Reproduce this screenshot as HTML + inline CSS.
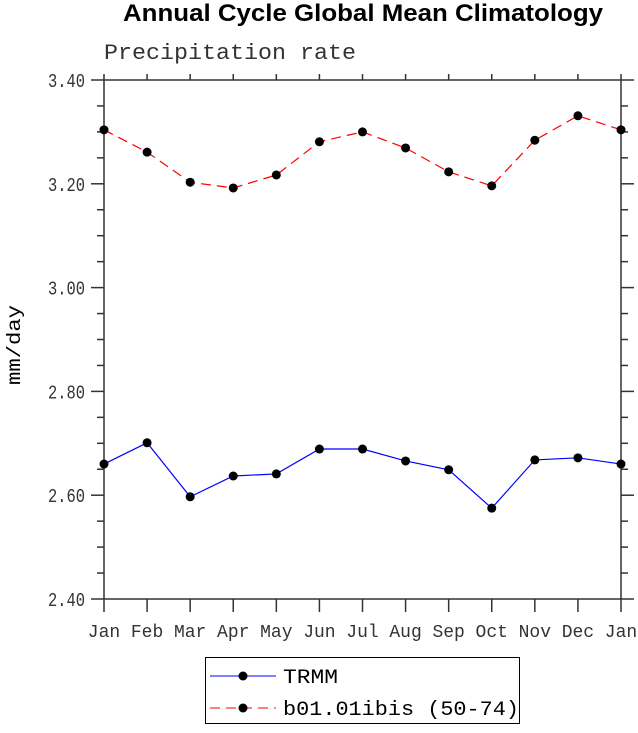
<!DOCTYPE html>
<html><head><meta charset="utf-8"><style>
body{margin:0;background:#fff;width:638px;height:728px;overflow:hidden}
text{font-family:"Liberation Mono",monospace}
</style></head><body>
<svg id="c" width="638" height="728" xmlns="http://www.w3.org/2000/svg">
<text x="363" y="21" text-anchor="middle" font-weight="bold" font-size="24" textLength="480" lengthAdjust="spacingAndGlyphs" style="font-family:'Liberation Sans',sans-serif">Annual Cycle Global Mean Climatology</text>
<text x="104" y="59" font-size="22" textLength="252" lengthAdjust="spacingAndGlyphs" fill="#333">Precipitation rate</text>
<text transform="translate(20,345) rotate(-90)" text-anchor="middle" font-size="19" textLength="80" lengthAdjust="spacingAndGlyphs">mm/day</text>
<g id="axes"></g><g id="series"></g>
<rect x="205.5" y="657.5" width="314" height="66" fill="none" stroke="#000"/>
<g><line x1="210" y1="676" x2="276" y2="676" stroke="#0000ff"/><circle cx="243" cy="676" r="4.5"/><text x="283" y="683" font-size="20" textLength="55" lengthAdjust="spacingAndGlyphs">TRMM</text></g>
<g><line x1="210" y1="708" x2="276" y2="708" stroke="#ff0000" stroke-dasharray="10,6"/><circle cx="243" cy="708" r="4.5"/><text x="283" y="715" font-size="20" textLength="236" lengthAdjust="spacingAndGlyphs">b01.01ibis (50-74)</text></g>
</svg>
<script>
const months=["Jan","Feb","Mar","Apr","May","Jun","Jul","Aug","Sep","Oct","Nov","Dec","Jan"];
const trmm=[2.660,2.701,2.597,2.637,2.641,2.689,2.689,2.666,2.649,2.575,2.668,2.672,2.660];
const b01=[3.304,3.261,3.203,3.192,3.217,3.281,3.300,3.269,3.223,3.196,3.284,3.331,3.304];
const yTicks=["2.40","2.60","2.80","3.00","3.20","3.40"];
const ns="http://www.w3.org/2000/svg";
const L=104,R=621,T=80,B=599;
const xs=i=>L+(R-L)*i/(months.length-1);
const ys=v=>B-(v-2.4)/(3.4-2.4)*(B-T);
function mk(tag,at,par){const e=document.createElementNS(ns,tag);for(const k in at)e.setAttribute(k,at[k]);par.appendChild(e);return e;}
const ax=document.getElementById('axes');
const fr=mk('rect',{x:L,y:T,width:R-L,height:B-T,fill:'none',stroke:'#333','stroke-width':1.5},ax);


months.forEach((m,i)=>{const x=xs(i);
 mk('line',{x1:x,y1:B,x2:x,y2:B+13,stroke:'#333','stroke-width':1.5},ax);
 mk('line',{x1:x,y1:T,x2:x,y2:T-6,stroke:'#333','stroke-width':1.5},ax);
 const t=mk('text',{x:x,y:B+38,'text-anchor':'middle','font-size':18,fill:'#333'},ax);t.textContent=m;
 
 });
for(let k=0;k<=20;k++){const v=2.4+k*0.05,y=ys(v),maj=k%4==0,len=maj?13:7;
 mk('line',{x1:L,y1:y,x2:L-len,y2:y,stroke:'#333','stroke-width':1.5},ax);
 mk('line',{x1:R,y1:y,x2:R+len,y2:y,stroke:'#333','stroke-width':1.5},ax);}
yTicks.forEach(s=>{const y=ys(parseFloat(s));const t=mk('text',{x:85,y:y+7,'text-anchor':'end','font-size':19,fill:'#333',textLength:37,lengthAdjust:'spacingAndGlyphs'},ax);t.textContent=s;
 
 });
const sg=document.getElementById('series');
function draw(vals,col,dash,name){const g=mk('g',{},sg);
 
 
 mk('polyline',{points:vals.map((v,i)=>xs(i)+','+ys(v)).join(' '),fill:'none',stroke:col,'stroke-width':1.2,'stroke-dasharray':dash},g);
 vals.forEach((v,i)=>{const c=mk('circle',{cx:xs(i),cy:ys(v),r:4.5},g);
  
  });}
draw(trmm,'#0000ff','none','series-trmm');
draw(b01,'#ff0000','10,6','series-b01');
</script>
</body></html>
